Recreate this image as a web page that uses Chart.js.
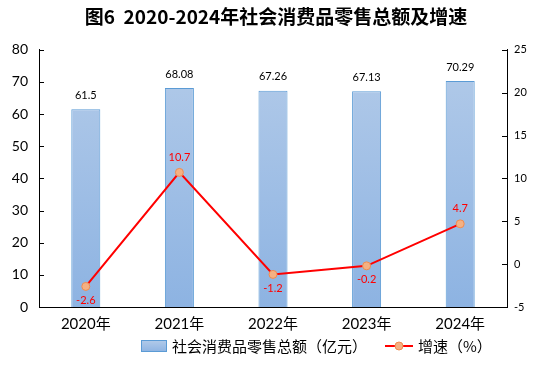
<!DOCTYPE html>
<html>
<head>
<meta charset="utf-8">
<script src="https://cdn.jsdelivr.net/npm/chart.js@4"></script>
<style>
  html, body { margin: 0; padding: 0; background: #fff; }
  #wrap { width: 540px; height: 367px; }
</style>
</head>
<body>
<div id="wrap"><canvas id="salesChart" width="540" height="367"></canvas></div>
<script>
// Data
const years = ['2020年', '2021年', '2022年', '2023年', '2024年'];
const retailSales = [61.5, 68.08, 67.26, 67.13, 70.29];   // 亿元
const growthRate = [-2.6, 10.7, -1.2, -0.2, 4.7];         // %
const salesLabels = ['61.5', '68.08', '67.26', '67.13', '70.29'];
const growthLabels = ['-2.6', '10.7', '-1.2', '-0.2', '4.7'];

const FONT = "Lato, 'Noto Sans CJK SC', sans-serif";
const CJK = "'Noto Sans CJK SC', sans-serif";

function barGradient(ctx, area) {
  const g = ctx.createLinearGradient(0, area.top, 0, area.bottom);
  g.addColorStop(0, '#b3cbe9');
  g.addColorStop(1, '#8db3e2');
  return g;
}

// value labels on bars and line points
const valueLabels = {
  id: 'valueLabels',
  afterDatasetsDraw(chart) {
    const ctx = chart.ctx;
    ctx.save();
    ctx.textAlign = 'center';
    ctx.textBaseline = 'middle';
    ctx.font = '11px ' + FONT;
    chart.getDatasetMeta(1).data.forEach((bar, i) => {
      ctx.fillStyle = '#000';
      ctx.fillText(salesLabels[i], bar.x, bar.y - 14);
    });
    chart.getDatasetMeta(0).data.forEach((pt, i) => {
      ctx.fillStyle = '#ff0000';
      const dy = growthRate[i] > 3 ? -15 : 14;
      ctx.fillText(growthLabels[i], pt.x, pt.y + dy);
    });
    ctx.restore();
  }
};

// inward tick marks on both value axes
const innerTicks = {
  id: 'innerTicks',
  afterDraw(chart) {
    const ctx = chart.ctx;
    ctx.save();
    ctx.strokeStyle = '#000';
    ctx.lineWidth = 1;
    ['y', 'y1'].forEach(id => {
      const s = chart.scales[id];
      const x0 = id === 'y' ? s.right : s.left;
      const dir = id === 'y' ? 1 : -1;
      s.ticks.forEach(t => {
        const py = Math.round(s.getPixelForValue(t.value)) + 0.5;
        ctx.beginPath();
        ctx.moveTo(x0, py);
        ctx.lineTo(x0 + dir * 5, py);
        ctx.stroke();
      });
    });
    ctx.restore();
  }
};

// bottom legend
const bottomLegend = {
  id: 'bottomLegend',
  afterDraw(chart) {
    const ctx = chart.ctx;
    const y = 346;
    ctx.save();
    const g = ctx.createLinearGradient(0, y - 6, 0, y + 6);
    g.addColorStop(0, '#b3cbe9');
    g.addColorStop(1, '#8db3e2');
    ctx.fillStyle = g;
    ctx.fillRect(141, y - 6, 26, 12);
    ctx.strokeStyle = '#5b9bd5';
    ctx.lineWidth = 1;
    ctx.strokeRect(141.5, y - 5.5, 25, 11);
    ctx.font = '15px ' + CJK;
    ctx.fillStyle = '#000';
    ctx.textBaseline = 'middle';
    ctx.fillText('社会消费品零售总额（亿元）', 172, y);

    ctx.strokeStyle = '#ff0000';
    ctx.lineWidth = 2;
    ctx.beginPath();
    ctx.moveTo(385, y);
    ctx.lineTo(413, y);
    ctx.stroke();
    ctx.beginPath();
    ctx.arc(399, y, 4, 0, Math.PI * 2);
    ctx.fillStyle = '#f4b183';
    ctx.fill();
    ctx.strokeStyle = '#f08c50';
    ctx.lineWidth = 1;
    ctx.stroke();
    ctx.fillStyle = '#000';
    ctx.fillText('增速（%）', 418, y);
    ctx.restore();
  }
};

new Chart(document.getElementById('salesChart'), {
  data: {
    labels: years,
    datasets: [{
      type: 'line',
      label: '增速（%）',
      data: growthRate,
      yAxisID: 'y1',
      borderColor: '#ff0000',
      borderWidth: 2,
      pointRadius: 4,
      pointBackgroundColor: '#f4b183',
      pointBorderColor: '#f08c50',
      pointBorderWidth: 1,
      tension: 0,
      order: 0
    }, {
      type: 'bar',
      label: '社会消费品零售总额（亿元）',
      data: retailSales,
      yAxisID: 'y',
      backgroundColor: c => c.chart.chartArea ? barGradient(c.chart.ctx, c.chart.chartArea) : '#a0bfe6',
      borderColor: '#5b9bd5',
      borderWidth: 1,
      borderSkipped: 'bottom',
      barPercentage: 0.31,
      categoryPercentage: 1,
      order: 1
    }]
  },
  options: {
    responsive: false,
    animation: false,
    layout: { padding: { left: 12, right: 0, top: 0, bottom: 30 } },
    plugins: {
      legend: { display: false },
      tooltip: { enabled: false },
      title: {
        display: true,
        text: '图6  2020-2024年社会消费品零售总额及增速',
        color: '#000',
        font: { family: CJK, size: 19, weight: 'bold' },
        padding: { top: 5, bottom: 22 }
      }
    },
    scales: {
      x: {
        grid: { display: false, drawTicks: false },
        border: { color: '#000', width: 1 },
        ticks: { color: '#000', font: { family: FONT, size: 15 }, padding: 8 },
        afterFit: s => { s.height = 30; }
      },
      y: {
        position: 'left',
        min: 0, max: 80,
        ticks: { stepSize: 10, color: '#000', font: { family: FONT, size: 14 }, padding: 11 },
        grid: { display: false, drawTicks: false },
        border: { color: '#000', width: 1 },
        afterFit: s => { s.width = 27; }
      },
      y1: {
        position: 'right',
        min: -5, max: 25,
        ticks: { stepSize: 5, color: '#000', font: { family: FONT, size: 11 }, padding: 7 },
        grid: { display: false, drawTicks: false },
        border: { color: '#000', width: 1 },
        afterFit: s => { s.width = 33; }
      }
    }
  },
  plugins: [valueLabels, innerTicks, bottomLegend]
});
</script>
</body>
</html>
